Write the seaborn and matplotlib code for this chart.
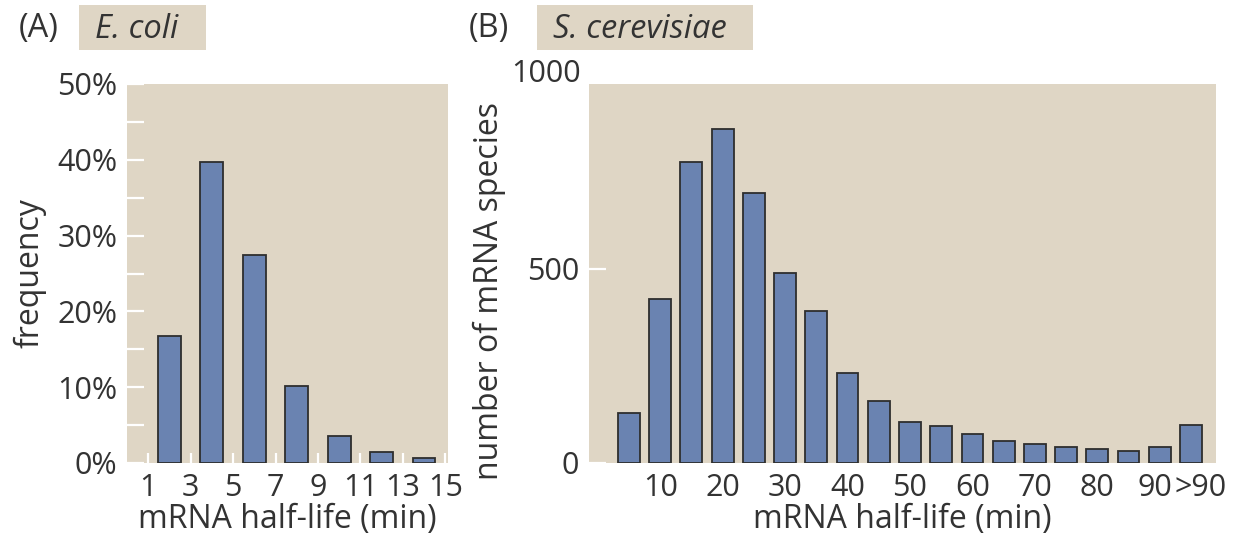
import matplotlib
matplotlib.use("Agg")
import matplotlib.pyplot as plt
from matplotlib.patches import Rectangle
from matplotlib.transforms import ScaledTranslation
import seaborn as sns

# ---------------- data ----------------
ecoli_halflife = [2, 4, 6, 8, 10, 12, 14]            # bin centres (min)
ecoli_freq = [16.7, 39.7, 27.4, 10.2, 3.6, 1.5, 0.7]  # %
ecoli_xticks = [1, 3, 5, 7, 9, 11, 13, 15]
ecoli_yticks = [0, 10, 20, 30, 40, 50]

yeast_halflife = [5, 10, 15, 20, 25, 30, 35, 40, 45, 50, 55, 60, 65, 70, 75, 80, 85, 90, 95]
yeast_count = [128, 423, 774, 859, 695, 490, 390, 231, 159, 105, 95, 74, 56, 48, 42, 36, 31, 42, 97]
yeast_xticks = [10, 20, 30, 40, 50, 60, 70, 80, 90, 95]
yeast_xticklabels = ["10", "20", "30", "40", "50", "60", "70", "80", "90", ">90"]
yeast_yticks = [0, 500]

# ---------------- style ----------------
TAN = "#dfd6c5"
BAR = "#6a83b1"
EDGE = "#2e2e2e"
TXT = "#333333"
W, H = 1240, 539

sns.set_theme(style="white")
plt.rcParams["font.family"] = ["Open Sans", "DejaVu Sans"]
plt.rcParams["text.color"] = TXT
plt.rcParams["axes.labelcolor"] = TXT
FS_TICK = 22
FS_LAB = 23
FS_HEAD = 23.5

fig = plt.figure(figsize=(W / 100, H / 100), dpi=100)

def ax_at(l, t, r, b):
    return fig.add_axes([l / W, 1 - b / H, (r - l) / W, (b - t) / H])

axA = ax_at(127, 84, 448, 463)
axB = ax_at(589, 84, 1216, 463)

for ax in (axA, axB):
    ax.set_facecolor(TAN)
    for s in ax.spines.values():
        s.set_visible(False)

# ---- panel A ----
sns.barplot(x=ecoli_halflife, y=ecoli_freq, native_scale=True, width=0.54,
            color=BAR, saturation=1, edgecolor=EDGE, linewidth=1.3,
            errorbar=None, ax=axA)
axA.set_xlim(0, 15.13)
axA.set_ylim(0, 50)
axA.set_xticks(ecoli_xticks)
axA.set_xticklabels([str(v) for v in ecoli_xticks])
axA.set_yticks(ecoli_yticks)
axA.set_yticklabels([f"{v}%" for v in ecoli_yticks])
axA.set_yticks([5, 15, 25, 35, 45], minor=True)
axA.set_xlabel("mRNA half-life (min)", fontsize=FS_LAB, labelpad=0)
axA.set_ylabel("frequency", fontsize=FS_LAB, labelpad=8)

# ---- panel B ----
sns.barplot(x=yeast_halflife, y=yeast_count, native_scale=True, width=0.70,
            color=BAR, saturation=1, edgecolor=EDGE, linewidth=1.3,
            errorbar=None, ax=axB)
axB.set_xlim(-1.4, 99)
axB.set_ylim(0, 975)
axB.set_xticks(yeast_xticks)
axB.set_xticklabels(yeast_xticklabels)
axB.set_yticks(yeast_yticks)
axB.set_yticklabels([str(v) for v in yeast_yticks])
axB.text(-0.013, 1000, "1000", transform=axB.get_yaxis_transform(),
         ha="right", va="center", fontsize=FS_TICK, color=TXT, clip_on=False)
axB.set_xlabel("mRNA half-life (min)", fontsize=FS_LAB, labelpad=0)
axB.set_ylabel("number of mRNA species", fontsize=FS_LAB, labelpad=6)
axB.yaxis.set_label_coords(-0.132, 0.455)

for ax in (axA, axB):
    ax.tick_params(axis="both", which="both", direction="in", color="white",
                   width=1.6, labelsize=FS_TICK, labelcolor=TXT,
                   left=True, bottom=True, top=False, right=False)
    ax.tick_params(axis="y", which="both", length=12, pad=7)
    ax.tick_params(axis="x", which="both", length=7, pad=7)

# hide tick mark under ">90"
t_last = axB.xaxis.get_major_ticks()[-1]
t_last.tick1line.set_visible(False)
lbls = axB.get_xticklabels()
lbls[-2].set_transform(lbls[-2].get_transform() + ScaledTranslation(-0.05, 0, fig.dpi_scale_trans))
lbls[-1].set_transform(lbls[-1].get_transform() + ScaledTranslation(0.1, 0, fig.dpi_scale_trans))

# ---- panel headers ----
def header(letter, lx, box_l, box_r, name):
    fig.add_artist(Rectangle((box_l / W, 1 - 50 / H), (box_r - box_l) / W, 45 / H,
                             transform=fig.transFigure, facecolor=TAN, edgecolor="none"))
    fig.text(lx / W, 1 - 29 / H, letter, ha="left", va="center", fontsize=FS_HEAD, color=TXT)
    fig.text((box_l + 16) / W, 1 - 29 / H, name, ha="left", va="center",
             fontsize=FS_HEAD, style="italic", color=TXT)

header("(A)", 19, 79, 206, "E. coli")
header("(B)", 469, 537, 753, "S. cerevisiae")

fig.savefig("out.png", dpi=100, facecolor="white")
